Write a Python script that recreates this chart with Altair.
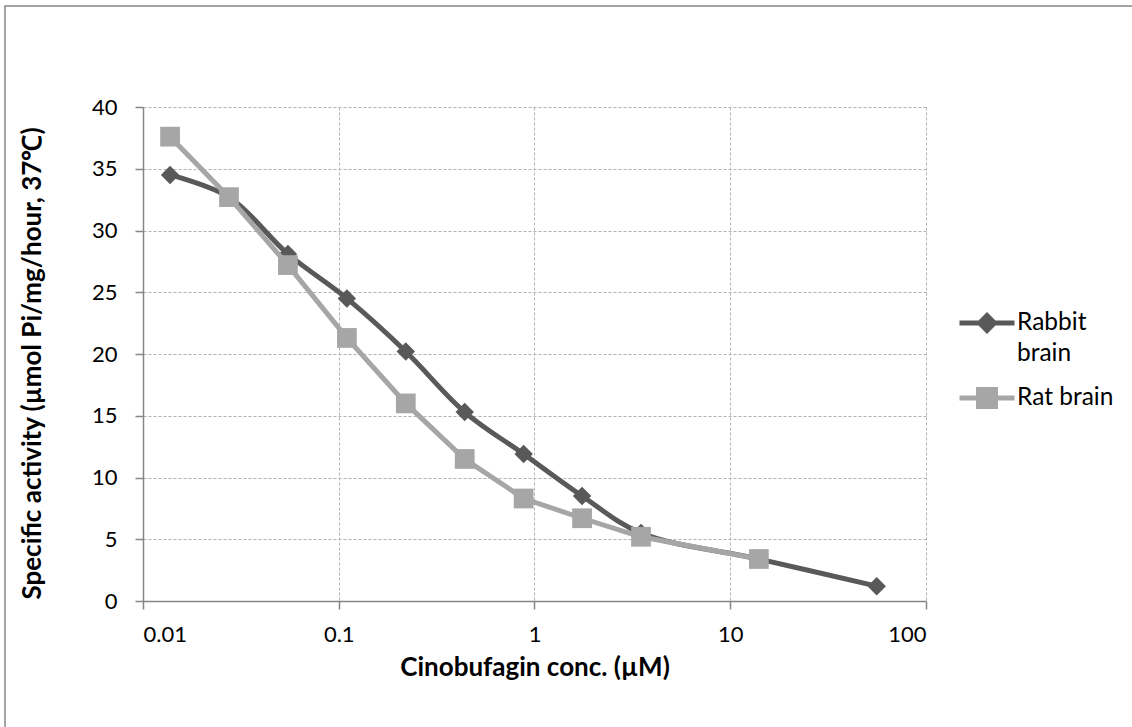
import altair as alt
import pandas as pd

# ---- data ----
series_names = ["Rabbit brain", "Rat brain"]
series_colors = ["#595959", "#A6A6A6"]

rabbit_conc = [0.01375, 0.0275, 0.055, 0.11, 0.22, 0.44, 0.88, 1.75, 3.5, 14, 56]
rabbit_act = [34.5, 32.7, 28.1, 24.5, 20.2, 15.3, 11.9, 8.5, 5.5, 3.4, 1.2]

rat_conc = [0.01375, 0.0275, 0.055, 0.11, 0.22, 0.44, 0.88, 1.75, 3.5, 14]
rat_act = [37.6, 32.7, 27.2, 21.3, 16.0, 11.5, 8.3, 6.7, 5.2, 3.4]

x_ticks = [0.01, 0.1, 1, 10, 100]
y_ticks = [0, 5, 10, 15, 20, 25, 30, 35, 40]

df = pd.concat([
    pd.DataFrame({"conc": rabbit_conc, "act": rabbit_act, "series": series_names[0]}),
    pd.DataFrame({"conc": rat_conc, "act": rat_act, "series": series_names[1]}),
], ignore_index=True)

FONT = "Lato"
AXIS_GREY = "#868686"

# legend symbols: a horizontal stroke with the series marker on it
legend_paths = [
    "M-1,0L1,0M0,-0.27L0.27,0L0,0.27L-0.27,0Z",
    "M-1,0L1,0M-0.31,-0.31L0.31,-0.31L0.31,0.31L-0.31,0.31Z",
]

legend = alt.Legend(
    title=None,
    orient="none",
    legendX=814,
    legendY=186,
    symbolSize=3025,
    symbolStrokeWidth=5,
    symbolOpacity=1,
    labelFont=FONT,
    labelFontSize=24.5,
    labelColor="#000000",
    labelLimit=300,
    labelOffset=0,
    rowPadding=2,
    labelExpr="datum.label == 'Rabbit brain' ? ['Rabbit', 'brain'] : datum.label",
)

scale_col = alt.Scale(domain=series_names, range=series_colors)
fill = alt.Fill("series:N", scale=scale_col, legend=legend)
stroke = alt.Stroke("series:N", scale=scale_col, legend=legend)
shape_leg = alt.Shape("series:N", scale=alt.Scale(domain=series_names, range=legend_paths), legend=legend)

x = alt.X(
    "conc:Q",
    scale=alt.Scale(type="log", domain=[0.01, 100], nice=False),
    axis=alt.Axis(
        values=x_ticks,
        format="~g",
        title="Cinobufagin conc. (µM)",
        labelPadding=15,
        titlePadding=9,
    ),
)
y = alt.Y(
    "act:Q",
    scale=alt.Scale(domain=[0, 40], nice=False),
    axis=alt.Axis(
        values=y_ticks,
        title="Specific activity (µmol Pi/mg/hour, 37℃)",
        labelPadding=18,
        titlePadding=46,
        titleY=256,
    ),
)

base = alt.Chart(df)
is_rabbit = alt.datum.series == series_names[0]
is_rat = alt.datum.series == series_names[1]

rabbit_line = base.transform_filter(is_rabbit).mark_line(
    strokeWidth=5, interpolate="catmull-rom"
).encode(x=x, y=y, stroke=stroke)
rabbit_pts = base.transform_filter(is_rabbit).mark_point(
    filled=True, size=340, opacity=1, strokeWidth=0, shape="diamond"
).encode(x=x, y=y, fill=fill)
rat_line = base.transform_filter(is_rat).mark_line(
    strokeWidth=5
).encode(x=x, y=y, stroke=stroke)
rat_pts = base.transform_filter(is_rat).mark_point(
    filled=True, size=390, opacity=1, strokeWidth=0, shape="square"
).encode(x=x, y=y, fill=fill)

# invisible layer that only supplies the legend's symbol shapes
legend_layer = base.mark_point(filled=True, size=0, strokeWidth=0).encode(
    x=x, y=y, fill=fill, shape=shape_leg
)

frame = alt.Chart(alt.Data(values=[{"k": 1}])).mark_rect(
    fill=None, stroke=AXIS_GREY, strokeWidth=1.5
).encode(
    x=alt.value(-138), x2=alt.value(1200), y=alt.value(-101), y2=alt.value(800)
)

chart = alt.layer(
    frame, legend_layer, rabbit_line, rabbit_pts, rat_line, rat_pts
).properties(
    width=783,
    height=494,
    autosize=alt.AutoSizeParams(type="none"),
    padding={"left": 143, "top": 107, "right": 206, "bottom": 126},
    background="white",
).configure(
    style={"guide-label": {"lineHeight": 31}}
).configure_view(stroke=None).configure_axis(
    labelFont=FONT,
    labelFontSize=22,
    labelColor="#000000",
    titleFont=FONT,
    titleFontSize=26,
    titleFontWeight="bold",
    titleColor="#000000",
    domainColor=AXIS_GREY,
    domainWidth=1.5,
    tickColor=AXIS_GREY,
    tickWidth=1.5,
    tickSize=8,
    grid=True,
    gridColor="#B3B3B3",
    gridDash=[3, 2],
    gridWidth=1,
)

chart.save("out.html", embed_options={"renderer": "svg", "actions": False})
